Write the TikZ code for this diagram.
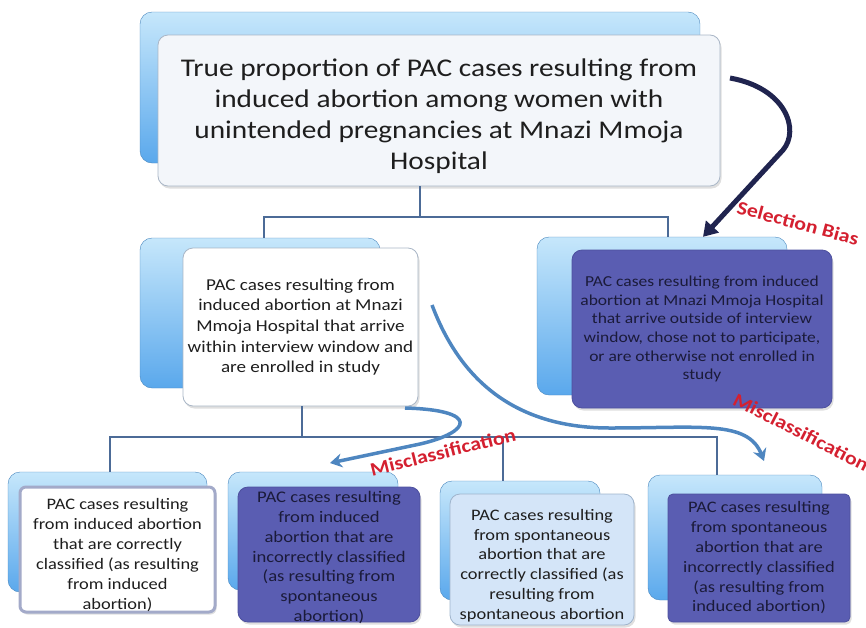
\documentclass[tikz,border=0pt]{standalone}
\usepackage{fontspec}
\setmainfont{Carlito}[FakeStretch=1.15]
\usetikzlibrary{arrows.meta,shadows,calc}
\definecolor{backtop}{HTML}{C6E7FB}
\definecolor{backbot}{HTML}{5AA8EC}
\definecolor{topfill}{HTML}{F3F6FA}
\definecolor{frameGray}{HTML}{A9B6C6}
\definecolor{purpleFill}{HTML}{5A5DB2}
\definecolor{purpleEdge}{HTML}{4D509E}
\definecolor{paleBlue}{HTML}{D4E5F8}
\definecolor{paleEdge}{HTML}{9FB4CC}
\definecolor{lavEdge}{HTML}{A3AAC9}
\definecolor{treeCol}{HTML}{4C6B97}
\definecolor{navyArrow}{HTML}{20244F}
\definecolor{steelArrow}{HTML}{4E86C0}
\definecolor{labelRed}{HTML}{D42030}
\definecolor{darkText}{HTML}{1E1E1E}
\definecolor{purpText}{HTML}{1B1B3A}
\tikzset{
  backbox/.style={rectangle, rounded corners=12pt, inner sep=0pt,
    top color=backtop, bottom color=backbot, draw=backbot!80!black, line width=0.4pt},
  frontbox/.style={rectangle, rounded corners=10pt, inner sep=0pt, align=center,
    drop shadow={opacity=0.25, shadow xshift=1.5pt, shadow yshift=-2.5pt}},
  lightbox/.style={frontbox, fill=white, draw=frameGray, line width=0.8pt, text=darkText},
  purplebox/.style={frontbox, fill=purpleFill, draw=purpleEdge, line width=0.8pt, text=purpText},
  boxtext/.style={inner sep=0pt, align=center, text=darkText},
  treeline/.style={draw=treeCol, line width=1.8pt},
  selarrow/.style={draw=navyArrow, line width=5pt, -{Triangle[width=17pt,length=14pt]}},
  misarrow/.style={draw=steelArrow, line width=3.5pt, -{Stealth[width=14pt,length=12pt,inset=4pt]}},
  biaslabel/.style={text=labelRed, font=\bfseries\fontsize{19}{22}\selectfont, inner sep=0pt}
}
\begin{document}
\begin{tikzpicture}[x=1pt,y=-1pt]
\useasboundingbox (0,0) rectangle (866,627);

% back boxes
\node[backbox, minimum width=560, minimum height=151] (topB) at (420,87.5) {};
\node[backbox, minimum width=240, minimum height=150] (mlB) at (260,313) {};
\node[backbox, minimum width=250, minimum height=158] (mrB) at (662,316) {};
\node[backbox, minimum width=199, minimum height=120] (b1B) at (107.5,532) {};
\node[backbox, minimum width=170, minimum height=118] (b2B) at (313,531) {};
\node[backbox, minimum width=160, minimum height=119] (b3B) at (520,540.5) {};
\node[backbox, minimum width=174, minimum height=125] (b4B) at (735,537.5) {};

% tree coordinates
\coordinate (t1) at (420,217);
\coordinate (t1l) at (264,217);
\coordinate (t1r) at (668,217);
\coordinate (t2) at (302,437);
\coordinate (t2l) at (110,437);
\coordinate (t2m) at (503,437);
\coordinate (t2r) at (717,437);

% front boxes
\node[lightbox, fill=topfill, minimum width=562, minimum height=151] (topF) at (439,110.5) {};
\node[boxtext, font=\fontsize{25.5}{31}\selectfont] (topT) at (439,116)
  {True proportion of PAC cases resulting from\\induced abortion among women with\\unintended pregnancies at Mnazi Mmoja\\Hospital};
\node[lightbox, minimum width=235, minimum height=158,
  font=\fontsize{16.6}{20.7}\selectfont] (mlF) at (300.5,327)
  {PAC cases resulting from\\induced abortion at Mnazi\\Mmoja Hospital that arrive\\within interview window and\\are enrolled in study};
\node[purplebox, minimum width=260, minimum height=158,
  font=\fontsize{15.2}{18.7}\selectfont] (mrF) at (702,329)
  {PAC cases resulting from induced\\abortion at Mnazi Mmoja Hospital\\that arrive outside of interview\\window, chose not to participate,\\or are otherwise not enrolled in\\study};
\node[lightbox, draw=lavEdge, line width=3pt, rounded corners=6pt, minimum width=195, minimum height=125] (b1F) at (117.5,549.5) {};
\node[boxtext, font=\fontsize{16}{20}\selectfont] (b1T) at (117.5,555)
  {PAC cases resulting\\from induced abortion\\that are correctly\\classified (as resulting\\from induced\\abortion)};
\node[purplebox, minimum width=182, minimum height=135] (b2F) at (329,554.5) {};
\node[boxtext, text=purpText, font=\fontsize{16.2}{19.7}\selectfont] (b2T) at (329,557.5)
  {PAC cases resulting\\from induced\\abortion that are\\incorrectly classified\\(as resulting from\\spontaneous\\abortion)};
\node[lightbox, fill=paleBlue, draw=paleEdge, minimum width=184, minimum height=131] (b3F) at (542,559.5) {};
\node[boxtext, font=\fontsize{16}{19.8}\selectfont] (b3T) at (542,565.5)
  {PAC cases resulting\\from spontaneous\\abortion that are\\correctly classified (as\\resulting from\\spontaneous abortion};
\node[purplebox, rounded corners=5pt, minimum width=182, minimum height=128,
  font=\fontsize{16}{19.8}\selectfont] (b4F) at (759,558)
  {PAC cases resulting\\from spontaneous\\abortion that are\\incorrectly classified\\(as resulting from\\induced abortion)};

% tree connectors
\draw[treeline] (topF.south -| t1) -- (t1);
\draw[treeline] (mlB.north -| t1l) -- (t1l) -- (t1r) -- (mrB.north -| t1r);
\draw[treeline] (mlF.south -| t2) -- (t2);
\draw[treeline] (b1B.north -| t2l) -- (t2l) -- (t2r) -- (b4B.north -| t2r);
\draw[treeline] (t2m) -- (b3B.north -| t2m);

% selection bias arrow
\coordinate (s0) at (730,78);
\coordinate (s1) at (783,150);
\coordinate (sEnd) at (mrB.north -| 703,0);
\draw[selarrow] (s0) .. controls (786,88) and (800,130) .. (s1) -- (sEnd);
\node[biaslabel, rotate=-15] (selLbl) at (798,223) {Selection Bias};

% misclassification arrows
\coordinate (m1s) at (405,408);
\coordinate (m1k) at (420,444);
\coordinate (m1e) at (330,463);
\draw[misarrow] (m1s) .. controls (480,410) and (472,432) .. (m1k) -- (m1e);
\node[biaslabel, rotate=14] (misLbl1) at (443,452) {Misclassification};

\coordinate (m2s) at (432,305);
\coordinate (m2k) at (610,428);
\coordinate (m2e) at (764,461);
\draw[misarrow] (m2s) .. controls (462,385) and (520,428) .. (m2k) .. controls (700,428) and (748,420) .. (m2e);
\node[biaslabel, rotate=-27] (misLbl2) at (801,432) {Misclassification};
\end{tikzpicture}
\end{document}
